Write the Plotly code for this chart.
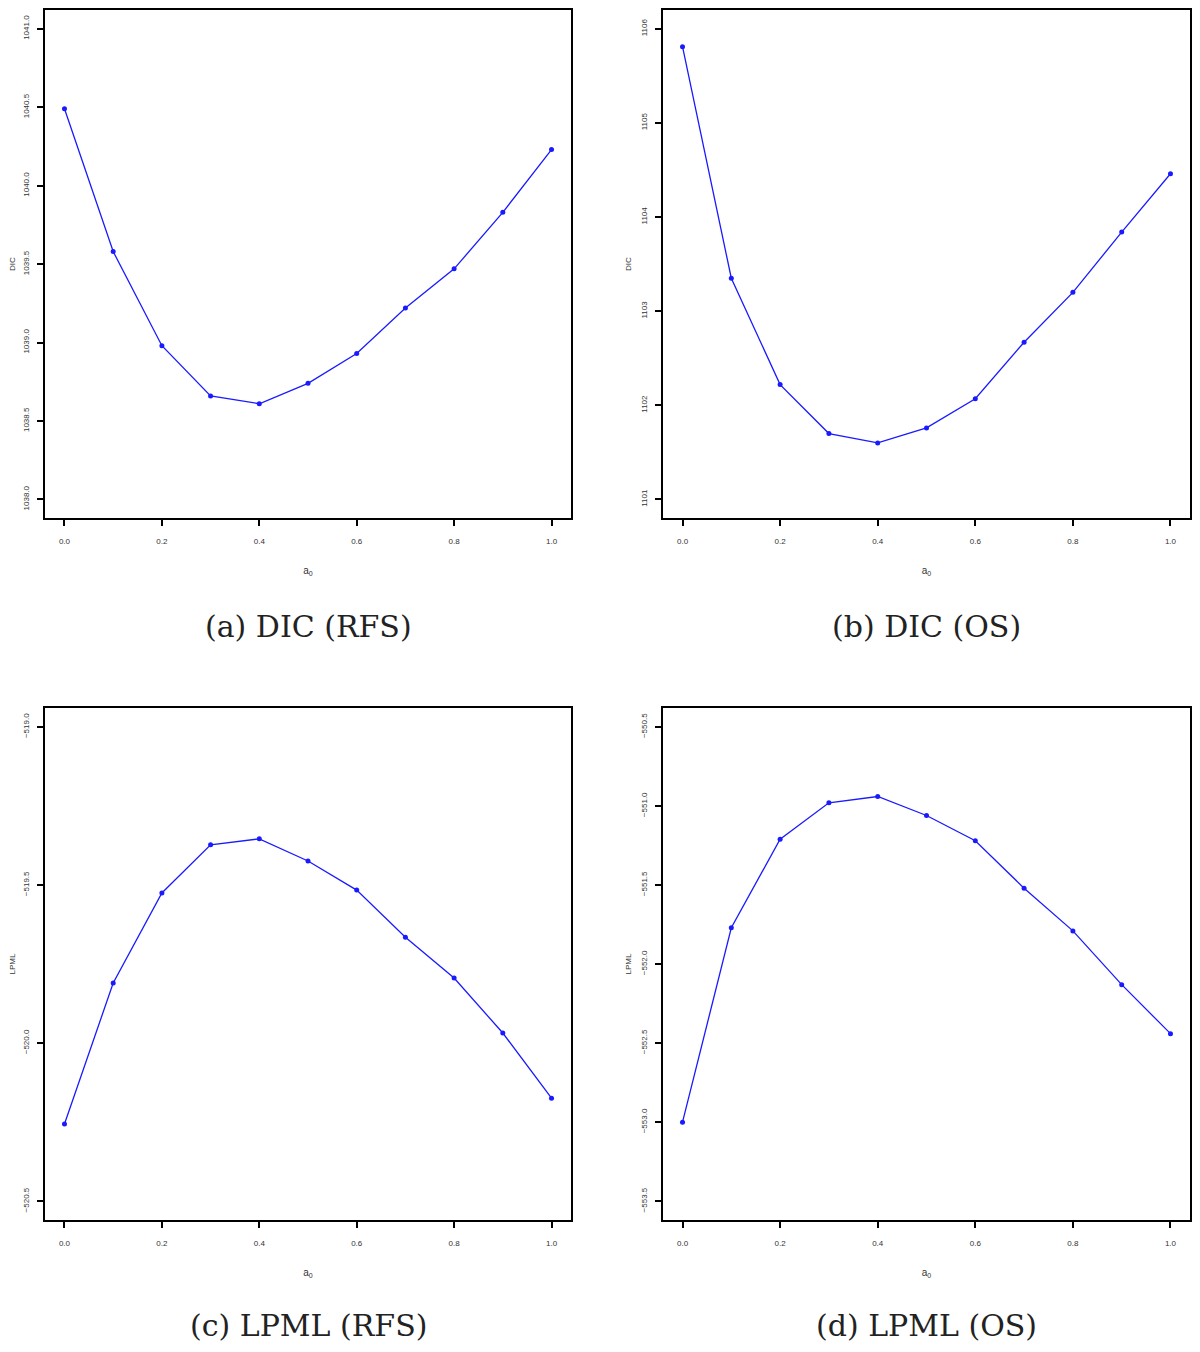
import plotly.graph_objects as go

a0 = [0.0, 0.1, 0.2, 0.3, 0.4, 0.5, 0.6, 0.7, 0.8, 0.9, 1.0]
dic_rfs = [1040.49, 1039.58, 1038.98, 1038.66, 1038.61, 1038.74, 1038.93, 1039.22, 1039.47, 1039.83, 1040.23]
dic_os = [1105.81, 1103.35, 1102.22, 1101.70, 1101.60, 1101.76, 1102.07, 1102.67, 1103.20, 1103.84, 1104.46]
lpml_rfs = [-520.256, -519.81, -519.525, -519.373, -519.354, -519.424, -519.516, -519.665, -519.794, -519.968, -520.174]
lpml_os = [-553.00, -551.77, -551.21, -550.98, -550.94, -551.06, -551.22, -551.52, -551.79, -552.13, -552.44]

x_ticks = [0.0, 0.2, 0.4, 0.6, 0.8, 1.0]
x_ticklabels = ["0.0", "0.2", "0.4", "0.6", "0.8", "1.0"]
dic_rfs_ticks = [1038.0, 1038.5, 1039.0, 1039.5, 1040.0, 1040.5, 1041.0]
dic_os_ticks = [1101, 1102, 1103, 1104, 1105, 1106]
lpml_rfs_ticks = [-520.5, -520.0, -519.5, -519.0]
lpml_os_ticks = [-553.5, -553.0, -552.5, -552.0, -551.5, -551.0, -550.5]

captions = ["(a) DIC (RFS)", "(b) DIC (OS)", "(c) LPML (RFS)", "(d) LPML (OS)"]
ytitles = ["DIC", "DIC", "LPML", "LPML"]

OFF = 8  # default page body margin
W, H = 1200 - 2 * OFF, 1352 - OFF
panels = [
    dict(y=dic_rfs, ticks=dic_rfs_ticks, fmt="{:.1f}", px=(45, 571), py=(8, 517)),
    dict(y=dic_os, ticks=dic_os_ticks, fmt="{:d}", px=(663, 1190), py=(8, 517)),
    dict(y=lpml_rfs, ticks=lpml_rfs_ticks, fmt="{:.1f}", px=(45, 571), py=(707, 1220)),
    dict(y=lpml_os, ticks=lpml_os_ticks, fmt="{:.1f}", px=(663, 1190), py=(707, 1220)),
]


def fx(X):
    return min(1.0, max(0.0, (X - OFF) / W))


def fy(Y):
    return min(1.0, max(0.0, (H - (Y - OFF)) / H))


fig = go.Figure()
layout = dict(
    width=W, height=H,
    margin=dict(l=0, r=0, t=0, b=0),
    paper_bgcolor="white", plot_bgcolor="white",
    showlegend=False,
    font=dict(family="Liberation Sans", color="#333333"),
)
annotations = []
tickfont = dict(family="Liberation Sans", size=8, color="#333333")

for i, p in enumerate(panels):
    n = "" if i == 0 else str(i + 1)
    xa, ya = "x" + n, "y" + n
    fig.add_trace(go.Scatter(
        x=a0, y=p["y"], xaxis=xa, yaxis=ya, mode="lines+markers",
        line=dict(color="#1a1aff", width=1.3),
        marker=dict(color="#1a1aff", size=5),
    ))
    lo, hi = min(p["ticks"]), max(p["ticks"])
    ext = (hi - lo) * 0.04
    if p["fmt"] == "{:d}":
        ylabels = [str(int(t)) for t in p["ticks"]]
    else:
        ylabels = [p["fmt"].format(t).replace("-", "\u2212") for t in p["ticks"]]
    layout["xaxis" + n] = dict(
        domain=[fx(p["px"][0]), fx(p["px"][1])], anchor=ya, range=[-0.04, 1.04],
        tickvals=x_ticks, ticktext=x_ticklabels, ticks="outside", ticklen=6,
        tickwidth=1.5, tickcolor="black",
        showline=True, linecolor="black", linewidth=1.5, mirror=True,
        showgrid=False, zeroline=False, tickfont=tickfont,
        ticklabelstandoff=8,
        title=dict(text="a<sub>0</sub>", font=dict(size=10, color="#333333"), standoff=22),
    )
    layout["yaxis" + n] = dict(
        domain=[fy(p["py"][1]), fy(p["py"][0])], anchor=xa, range=[lo - ext, hi + ext],
        tickvals=p["ticks"], ticktext=ylabels, ticks="outside", ticklen=6,
        tickwidth=1.5, tickcolor="black", tickangle=-90,
        showline=True, linecolor="black", linewidth=1.5, mirror=True,
        showgrid=False, zeroline=False, tickfont=tickfont,
        ticklabelstandoff=5,
        title=dict(text=ytitles[i], font=dict(size=8, color="#333333"), standoff=7),
    )
    cx = fx((p["px"][0] + p["px"][1]) / 2)
    cy = fy(625 if i < 2 else 1325)
    annotations.append(dict(
        text=captions[i], x=cx, y=cy, xref="paper", yref="paper",
        xanchor="center", yanchor="middle", showarrow=False,
        font=dict(family="DejaVu Serif", size=30, color="#222222"),
    ))

layout["annotations"] = annotations
fig.update_layout(**layout)
fig.write_html("out.html")
